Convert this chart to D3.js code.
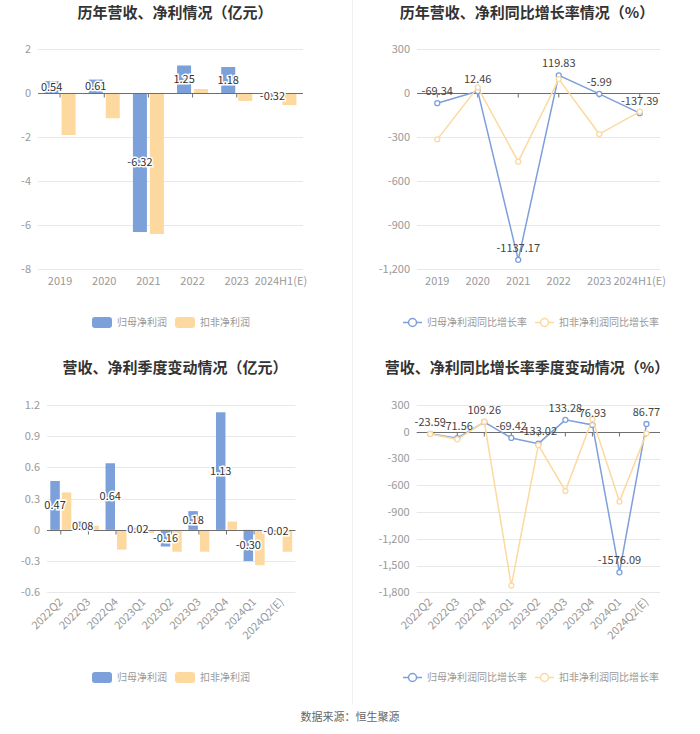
<!DOCTYPE html>
<html>
<head>
<meta charset="utf-8">
<script src="https://cdn.jsdelivr.net/npm/d3@7"></script>
<style>
  body { margin: 0; background: #fff; }
  text { font-family: "Noto Sans CJK SC", "Noto Sans", sans-serif; }
</style>
</head>
<body>
<div id="chart"></div>
<script>
// yearly data
var yearCats = ["2019", "2020", "2021", "2022", "2023", "2024H1(E)"];
var yearNetProfit = [0.54, 0.61, -6.32, 1.25, 1.18, -0.32];
var yearDeductProfit = [-1.91, -1.15, -6.41, 0.18, -0.36, -0.55];
var yearNetGrowth = [-69.34, 12.46, -1137.17, 119.83, -5.99, -137.39];
var yearDeductGrowth = [-316, 39, -468, 95, -280, -127];

// quarterly data
var quarterCats = ["2022Q2", "2022Q3", "2022Q4", "2023Q1", "2023Q2", "2023Q3", "2023Q4", "2024Q1", "2024Q2(E)"];
var quarterNetProfit = [0.47, 0.08, 0.64, 0.02, -0.16, 0.18, 1.13, -0.30, -0.02];
var quarterDeductProfit = [0.36, 0.04, -0.19, -0.03, -0.21, -0.21, 0.08, -0.34, -0.21];
var quarterNetGrowth = [-23.59, -71.56, 109.26, -69.42, -133.02, 133.28, 76.93, -1576.09, 86.77];
var quarterDeductGrowth = [-25, -85, 112, -1725, -150, -664, 142, -783, -18];

// axis ticks
var yearProfitTicks = [-8, -6, -4, -2, 0, 2];
var yearGrowthTicks = [-1200, -900, -600, -300, 0, 300];
var quarterProfitTicks = [-0.6, -0.3, 0, 0.3, 0.6, 0.9, 1.2];
var quarterGrowthTicks = [-1800, -1500, -1200, -900, -600, -300, 0, 300];

var barLegend = ["归母净利润", "扣非净利润"];
var lineLegend = ["归母净利润同比增长率", "扣非净利润同比增长率"];

var blue = "#7ba0da";
var orange = "#fdd9a0";
var blueLine = "#7d9fdc";
var orangeLine = "#fcd99e";

var loc = d3.formatLocale({ decimal: ".", thousands: ",", grouping: [3], currency: ["", ""], minus: "-" });
var fmtComma = loc.format(",");
var fmtPlain = function(d) { return d === 0 ? "0" : loc.format(".1f")(d); };
var fmt2 = loc.format(".2f");

var svg = d3.select("#chart")
  .append("svg")
  .attr("width", 700)
  .attr("height", 734);

svg.append("rect").attr("width", 700).attr("height", 734).attr("fill", "#fff");

// divider between the two columns
svg.append("line")
  .attr("x1", 352.5).attr("x2", 352.5)
  .attr("y1", 0).attr("y2", 704)
  .attr("stroke", "#f0f0f0");

function title(x, y, txt) {
  svg.append("text")
    .attr("x", x).attr("y", y)
    .attr("text-anchor", "middle")
    .attr("font-size", 15)
    .attr("font-weight", "bold")
    .attr("fill", "#333")
    .text(txt);
}

function yAxis(y, ticks, x0, x1, fmt) {
  var g = svg.append("g");
  ticks.forEach(function(t) {
    if (t !== 0) {
      g.append("line")
        .attr("x1", x0).attr("x2", x1)
        .attr("y1", Math.round(y(t)) + 0.5).attr("y2", Math.round(y(t)) + 0.5)
        .attr("stroke", "#e8e8e8");
    }
    g.append("text")
      .attr("x", x0 - 7).attr("y", y(t))
      .attr("dy", "0.35em")
      .attr("text-anchor", "end")
      .attr("font-size", 11)
      .attr("fill", "#999")
      .text(fmt(t));
  });
}

function xAxis(x, y, cats, rotate, labelY) {
  var g = svg.append("g");
  var r = x.range();
  var y0 = Math.round(y(0)) + 0.5;
  g.append("line")
    .attr("x1", r[0]).attr("x2", r[1])
    .attr("y1", y0).attr("y2", y0)
    .attr("stroke", "#6e6e6e");
  cats.forEach(function(c) {
    var cx = x(c) + x.bandwidth() / 2;
    g.append("line")
      .attr("x1", cx).attr("x2", cx)
      .attr("y1", y0).attr("y2", y0 + 4)
      .attr("stroke", "#6e6e6e");
    if (rotate) {
      g.append("text")
        .attr("transform", "translate(" + cx + "," + labelY + ") rotate(-45)")
        .attr("text-anchor", "end")
        .attr("dy", "0.35em")
        .attr("font-size", 11)
        .attr("fill", "#999")
        .text(c);
    } else {
      g.append("text")
        .attr("x", cx).attr("y", labelY)
        .attr("dy", "0.35em")
        .attr("text-anchor", "middle")
        .attr("font-size", 11)
        .attr("fill", "#999")
        .text(c);
    }
  });
}

function barChart(cfg) {
  var x = d3.scaleBand().domain(cfg.cats).range(cfg.xr);
  var y = d3.scaleLinear().domain(cfg.yd).range(cfg.yr);
  yAxis(y, cfg.ticks, cfg.xr[0], cfg.xr[1], cfg.fmt);

  var bw = cfg.barW, gap = cfg.gap;
  [cfg.s1, cfg.s2].forEach(function(vals, k) {
    svg.append("g").selectAll("rect")
      .data(vals)
      .enter()
      .append("rect")
      .attr("x", function(d, i) {
        var c = x(cfg.cats[i]) + x.bandwidth() / 2;
        return k === 0 ? c - gap / 2 - bw : c + gap / 2;
      })
      .attr("y", function(d) { return Math.min(y(d), y(0)); })
      .attr("width", bw)
      .attr("height", function(d) { return Math.abs(y(d) - y(0)); })
      .attr("fill", k === 0 ? blue : orange);
  });

  xAxis(x, y, cfg.cats, cfg.rotate, cfg.labelY);

  // value labels sit in the middle of the first series bars
  svg.append("g").selectAll("text")
    .data(cfg.s1)
    .enter()
    .append("text")
    .attr("x", function(d, i) { return x(cfg.cats[i]) + x.bandwidth() / 2 - gap / 2 - bw / 2; })
    .attr("y", function(d) { return y(d / 2); })
    .attr("dy", "0.35em")
    .attr("text-anchor", "middle")
    .attr("font-size", 11)
    .attr("fill", "#333")
    .attr("stroke", "#fff")
    .attr("stroke-width", 3)
    .attr("paint-order", "stroke")
    .text(function(d) { return fmt2(d); });
}

function lineChart(cfg) {
  var x = d3.scaleBand().domain(cfg.cats).range(cfg.xr);
  var y = d3.scaleLinear().domain(cfg.yd).range(cfg.yr);
  yAxis(y, cfg.ticks, cfg.xr[0], cfg.xr[1], cfg.fmt);
  xAxis(x, y, cfg.cats, cfg.rotate, cfg.labelY);

  var cx = function(d, i) { return x(cfg.cats[i]) + x.bandwidth() / 2; };
  var line = d3.line().x(cx).y(function(d) { return y(d); });

  [[cfg.s1, blueLine], [cfg.s2, orangeLine]].forEach(function(s) {
    svg.append("path")
      .datum(s[0])
      .attr("d", line)
      .attr("fill", "none")
      .attr("stroke", s[1])
      .attr("stroke-width", 1.5);
    svg.append("g").selectAll("circle")
      .data(s[0])
      .enter()
      .append("circle")
      .attr("cx", cx)
      .attr("cy", function(d) { return y(d); })
      .attr("r", 2.5)
      .attr("fill", "#fff")
      .attr("stroke", s[1])
      .attr("stroke-width", 1.3);
  });

  svg.append("g").selectAll("text")
    .data(cfg.s1)
    .enter()
    .append("text")
    .attr("x", cx)
    .attr("y", function(d) { return y(d) - 12; })
    .attr("dy", "0.35em")
    .attr("text-anchor", "middle")
    .attr("font-size", 11)
    .attr("fill", "#444")
    .text(function(d) { return fmt2(d); });
}

function barLegendAt(y, xs) {
  barLegend.forEach(function(name, i) {
    svg.append("rect")
      .attr("x", xs[i]).attr("y", y - 5.5)
      .attr("width", 20).attr("height", 11)
      .attr("rx", 3)
      .attr("fill", i === 0 ? blue : orange);
    svg.append("text")
      .attr("x", xs[i] + 25).attr("y", y)
      .attr("dy", "0.35em")
      .attr("font-size", 10)
      .attr("fill", "#999")
      .text(name);
  });
}

function lineLegendAt(y, xs) {
  lineLegend.forEach(function(name, i) {
    var c = i === 0 ? blueLine : orangeLine;
    svg.append("line")
      .attr("x1", xs[i]).attr("x2", xs[i] + 19)
      .attr("y1", y).attr("y2", y)
      .attr("stroke", c).attr("stroke-width", 1.5);
    svg.append("circle")
      .attr("cx", xs[i] + 9.5).attr("cy", y)
      .attr("r", 4)
      .attr("fill", "#fff")
      .attr("stroke", c).attr("stroke-width", 1.5);
    svg.append("text")
      .attr("x", xs[i] + 24).attr("y", y)
      .attr("dy", "0.35em")
      .attr("font-size", 10)
      .attr("fill", "#999")
      .text(name);
  });
}

title(175, 18, "历年营收、净利情况（亿元）");
title(527, 18, "历年营收、净利同比增长率情况（%）");
title(175, 373, "营收、净利季度变动情况（亿元）");
title(527, 373, "营收、净利同比增长率季度变动情况（%）");

barChart({
  cats: yearCats, s1: yearNetProfit, s2: yearDeductProfit,
  xr: [38, 303], yd: [-8, 2], yr: [269, 49], ticks: yearProfitTicks,
  fmt: function(d) { return String(d); },
  barW: 14, gap: 3, rotate: false, labelY: 281
});

lineChart({
  cats: yearCats, s1: yearNetGrowth, s2: yearDeductGrowth,
  xr: [417, 660], yd: [-1200, 300], yr: [269, 49], ticks: yearGrowthTicks,
  fmt: fmtComma, rotate: false, labelY: 281
});

barChart({
  cats: quarterCats, s1: quarterNetProfit, s2: quarterDeductProfit,
  xr: [47, 295.5], yd: [-0.6, 1.2], yr: [592.3, 405], ticks: quarterProfitTicks,
  fmt: fmtPlain, barW: 9.5, gap: 2, rotate: true, labelY: 600
});

lineChart({
  cats: quarterCats, s1: quarterNetGrowth, s2: quarterDeductGrowth,
  xr: [416.7, 660], yd: [-1800, 300], yr: [592.3, 405], ticks: quarterGrowthTicks,
  fmt: fmtComma, rotate: true, labelY: 600
});

barLegendAt(322.5, [92, 175]);
lineLegendAt(322.5, [403, 535]);
barLegendAt(677.5, [92, 175]);
lineLegendAt(677.5, [403, 535]);

svg.append("text")
  .attr("x", 350).attr("y", 717)
  .attr("dy", "0.35em")
  .attr("text-anchor", "middle")
  .attr("font-size", 11)
  .attr("fill", "#666")
  .text("数据来源：恒生聚源");
</script>
</body>
</html>
